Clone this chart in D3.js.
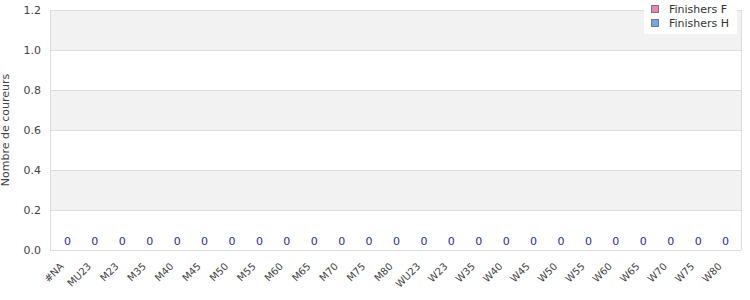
<!DOCTYPE html>
<html><head><meta charset="utf-8">
<script src="https://cdn.jsdelivr.net/npm/d3@7"></script>
<style>body{margin:0;background:#fff;} svg{display:block;font-family:"DejaVu Sans",sans-serif;}</style>
</head><body><svg id="c" width="750" height="300"></svg>
<script>
const categories = ["#NA","MU23","M23","M35","M40","M45","M50","M55","M60","M65","M70","M75","M80","WU23","W23","W35","W40","W45","W50","W55","W60","W65","W70","W75","W80"];
const finishersF = [0,0,0,0,0,0,0,0,0,0,0,0,0,0,0,0,0,0,0,0,0,0,0,0,0];
const finishersH = [0,0,0,0,0,0,0,0,0,0,0,0,0,0,0,0,0,0,0,0,0,0,0,0,0];
const yTicks = [0,0.2,0.4,0.6,0.8,1.0,1.2];
const seriesNames = ["Finishers F","Finishers H"];
const seriesColors = ["#ee82b8","#6aaaee"];

const svg = d3.select("#c");
const m = {l:50, r:9, t:10, b:50};
const W = 750, H = 300;
const x = d3.scaleBand().domain(categories).range([m.l, W-m.r]).padding(0.2);
const y = d3.scaleLinear().domain([0,1.2]).range([H-m.b, m.t]);

for (let i=0;i<yTicks.length-1;i++){
  svg.append("rect").attr("x",m.l).attr("width",W-m.r-m.l)
    .attr("y",y(yTicks[i+1])).attr("height",y(yTicks[i])-y(yTicks[i+1]))
    .attr("fill", i%2===1 ? "#f2f2f2" : "#ffffff");
}
svg.append("g").selectAll("line").data(yTicks).join("line")
  .attr("x1",m.l).attr("x2",W-m.r).attr("y1",d=>y(d)+0.5).attr("y2",d=>y(d)+0.5)
  .attr("stroke","#dddddd");
svg.append("line").attr("x1",m.l+0.5).attr("x2",m.l+0.5).attr("y1",m.t).attr("y2",H-m.b).attr("stroke","#dddddd");
svg.append("line").attr("x1",W-m.r+0.5).attr("x2",W-m.r+0.5).attr("y1",m.t).attr("y2",H-m.b).attr("stroke","#dddddd");

const stack = categories.map((c,i)=>({c, f:finishersF[i], h:finishersH[i]}));
svg.append("g").selectAll("rect").data(stack).join("rect")
  .attr("x",d=>x(d.c)).attr("width",x.bandwidth())
  .attr("y",d=>y(d.f)).attr("height",d=>y(0)-y(d.f)).attr("fill",seriesColors[0]);
svg.append("g").selectAll("rect").data(stack).join("rect")
  .attr("x",d=>x(d.c)).attr("width",x.bandwidth())
  .attr("y",d=>y(d.f+d.h)).attr("height",d=>y(d.f)-y(d.f+d.h)).attr("fill",seriesColors[1]);

svg.append("g").selectAll("text").data(stack).join("text")
  .attr("x",d=>x(d.c)+x.bandwidth()/2+1).attr("y",d=>y(d.f+d.h)-5)
  .attr("text-anchor","middle").attr("font-size",11).attr("fill","#2b2b9b")
  .text(d=>d.f+d.h);

const ya = svg.append("g").attr("transform",`translate(${m.l},0)`)
  .call(d3.axisLeft(y).tickValues(yTicks).tickFormat(d3.format(".1f")).tickSize(0).tickPadding(9));
ya.select(".domain").remove();
ya.selectAll("text").attr("font-size",11).attr("fill","#444").attr("font-family","DejaVu Sans");

// x labels, rotated -45deg, drawn at band centers (CSS transform)
svg.append("g").selectAll("text").data(categories).join("text")
  .attr("x",0).attr("y",0)
  .style("transform-box","view-box").style("transform-origin","0 0")
  .style("transform", d => `translate(${x(d)+x.bandwidth()/2-2}px,${H-m.b+17}px) rotate(-45deg)`)
  .attr("text-anchor","end").attr("font-size",10).attr("fill","#444")
  .attr("font-family","DejaVu Sans").text(d=>d);

svg.append("text").attr("transform",`translate(9,${(m.t+H-m.b)/2}) rotate(-90)`)
  .attr("text-anchor","middle").attr("font-size",11).attr("fill","#444").text("Nombre de coureurs");

const lg = svg.append("g");
lg.append("rect").attr("x",644).attr("y",0).attr("width",93).attr("height",34).attr("fill","#fff");
seriesNames.forEach((n,i)=>{
  lg.append("rect").attr("x",651.5).attr("y",5.5+i*14).attr("width",7).attr("height",7)
    .attr("fill",seriesColors[i]).attr("stroke","#777");
  lg.append("text").attr("x",669).attr("y",13+i*14).attr("font-size",11).attr("fill","#333").text(n);
});
</script></body></html>
